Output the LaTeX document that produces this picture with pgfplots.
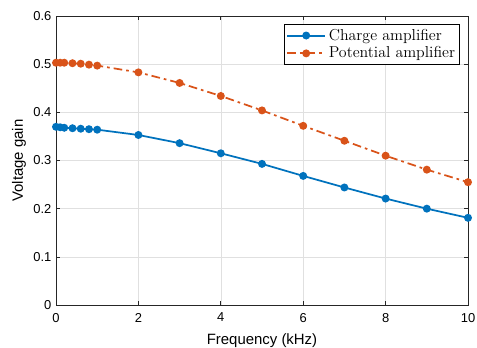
\documentclass[border=0pt]{standalone}
\usepackage{pgfplots}
\pgfplotsset{compat=1.18}
\usepackage{fontspec}
\newfontfamily\helv{Liberation Sans}
\definecolor{mblue}{rgb}{0,0.447,0.741}
\definecolor{morange}{rgb}{0.850,0.325,0.098}
\definecolor{mgrid}{rgb}{0.15,0.15,0.15}
\begin{document}
\begin{tikzpicture}
\begin{axis}[
  scale only axis,
  width=309pt, height=216.75pt,
  xmin=0, xmax=10, ymin=0, ymax=0.6,
  xtick={0,2,...,10}, ytick={0,0.1,...,0.6},
  yticklabel style={/pgf/number format/fixed,/pgf/number format/precision=1},
  xticklabel style={yshift=-2.5pt},
  /pgf/number format/assume math mode=true,
  ticklabel style={font=\helv\fontsize{9.7}{11}\selectfont},
  label style={font=\helv\fontsize{11.2}{13}\selectfont},
  xlabel={Frequency (kHz)}, ylabel={Voltage gain},
  xlabel style={at={(axis description cs:0.5,-0.1235)}, anchor=center},
  ylabel style={at={(axis description cs:-0.0898,0.5)}, anchor=center},
  grid=major, major grid style={line width=0.4pt, draw=black!12},
  axis line style={draw=mgrid, line width=0.5pt},
  tick style={draw=mgrid, line width=0.5pt},
  tick align=inside, major tick length=3pt,
  legend style={at={(0.9806,0.9723)}, anchor=north east, draw=black,
    font=\fontsize{11.9}{13}\selectfont, inner sep=1.5pt, row sep=-0.5pt,
    legend cell align=left},
  legend image code/.code={
    \draw[#1, line width=1.5pt] (0cm,0cm) -- (1.0cm,0cm);
    \draw[#1, line width=1.3pt, only marks] plot coordinates {(0.5cm,0cm)};
  },
]
\addplot[color=mblue, line width=1.3pt, mark=*, mark size=2.3pt, mark options={solid}] coordinates {
(0,0.370) (0.1,0.369) (0.2,0.368) (0.4,0.367) (0.6,0.366) (0.8,0.365) (1,0.364)
(2,0.353) (3,0.336) (4,0.315) (5,0.293) (6,0.268) (7,0.244) (8,0.221) (9,0.200) (10,0.181)
};
\addlegendentry{Charge amplifier}
\addplot[color=morange, line width=1.3pt, mark=*, mark size=2.3pt, mark options={solid},
  dash pattern=on 6.5pt off 3pt on 2pt off 3pt] coordinates {
(0,0.503) (0.1,0.503) (0.2,0.503) (0.4,0.502) (0.6,0.501) (0.8,0.499) (1,0.497)
(2,0.483) (3,0.461) (4,0.434) (5,0.404) (6,0.372) (7,0.341) (8,0.310) (9,0.281) (10,0.255)
};
\addlegendentry{Potential amplifier}
\end{axis}
\pgfresetboundingbox
\path[use as bounding box] (-42pt,-31.5pt) rectangle (315.75pt,228.75pt);
\end{tikzpicture}
\end{document}
